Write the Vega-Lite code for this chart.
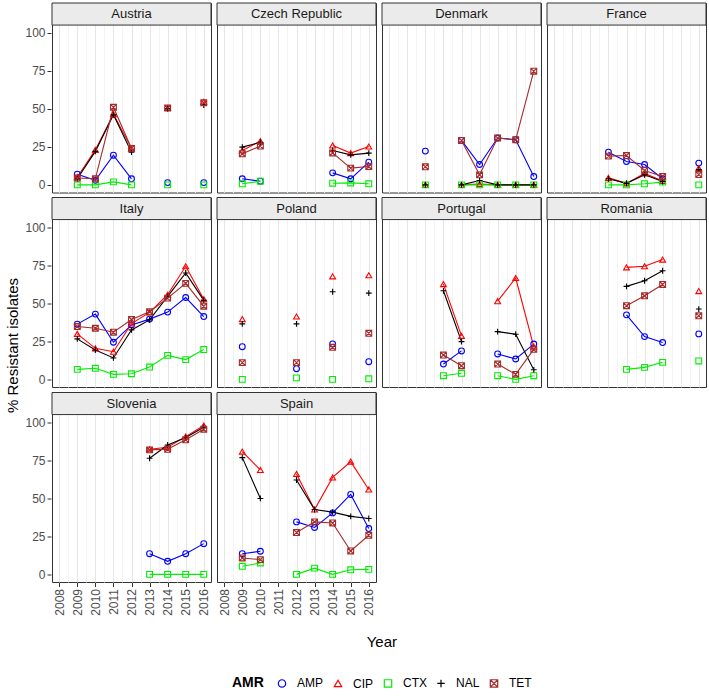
{
  "$schema": "https://vega.github.io/schema/vega-lite/v6.json",
  "padding": {"left": 5, "right": 1, "top": 1, "bottom": 2},
  "background": "white",
  "title": {"text": "% Resistant isolates", "orient": "left", "anchor": "middle", "fontSize": 15, "fontWeight": "normal", "color": "#000000", "offset": 4},
  "datasets": {
    "amr": [
    {"c":"Austria","yr":2009,"AMP":7,"CIP":5,"CTX":0,"NAL":4,"TET":4.5},
    {"c":"Austria","yr":2010,"AMP":3,"CIP":23,"CTX":0,"NAL":22,"TET":4},
    {"c":"Austria","yr":2011,"AMP":19.5,"CIP":46.5,"CTX":2,"NAL":46,"TET":51},
    {"c":"Austria","yr":2012,"AMP":4,"CIP":24,"CTX":0,"NAL":21.5,"TET":24},
    {"c":"Austria","yr":2013,"AMP":null,"CIP":null,"CTX":null,"NAL":null,"TET":null},
    {"c":"Austria","yr":2014,"AMP":1.5,"CIP":50.5,"CTX":0,"NAL":50,"TET":50.5},
    {"c":"Austria","yr":2015,"AMP":null,"CIP":null,"CTX":null,"NAL":null,"TET":null},
    {"c":"Austria","yr":2016,"AMP":1.5,"CIP":54.5,"CTX":0,"NAL":52.5,"TET":54},
    {"c":"Czech Republic","yr":2009,"AMP":4,"CIP":22.6,"CTX":0.7,"NAL":24.8,"TET":20.4},
    {"c":"Czech Republic","yr":2010,"AMP":2.4,"CIP":28.7,"CTX":2.4,"NAL":28,"TET":25.5},
    {"c":"Czech Republic","yr":2011,"AMP":null,"CIP":null,"CTX":null,"NAL":null,"TET":null},
    {"c":"Czech Republic","yr":2014,"AMP":7.9,"CIP":25.9,"CTX":1.1,"NAL":22.6,"TET":21},
    {"c":"Czech Republic","yr":2015,"AMP":4,"CIP":20.9,"CTX":1.3,"NAL":19.7,"TET":11},
    {"c":"Czech Republic","yr":2016,"AMP":14.9,"CIP":25.2,"CTX":0.7,"NAL":20.9,"TET":12.1},
    {"c":"Denmark","yr":2010,"AMP":22.2,"CIP":0,"CTX":0,"NAL":0,"TET":11.9},
    {"c":"Denmark","yr":2011,"AMP":null,"CIP":null,"CTX":null,"NAL":null,"TET":null},
    {"c":"Denmark","yr":2012,"AMP":29.2,"CIP":0,"CTX":0,"NAL":0,"TET":29.2},
    {"c":"Denmark","yr":2013,"AMP":13.4,"CIP":0.5,"CTX":0,"NAL":2.9,"TET":6.6},
    {"c":"Denmark","yr":2014,"AMP":30.8,"CIP":0,"CTX":0,"NAL":0,"TET":30.8},
    {"c":"Denmark","yr":2015,"AMP":29.7,"CIP":0,"CTX":0,"NAL":0,"TET":29.7},
    {"c":"Denmark","yr":2016,"AMP":5.5,"CIP":0,"CTX":0,"NAL":0,"TET":74.7},
    {"c":"France","yr":2011,"AMP":21.5,"CIP":4.6,"CTX":0,"NAL":4,"TET":18.9},
    {"c":"France","yr":2012,"AMP":15.4,"CIP":1,"CTX":0,"NAL":1,"TET":19.3},
    {"c":"France","yr":2013,"AMP":13.4,"CIP":7.5,"CTX":0.7,"NAL":6.6,"TET":9.5},
    {"c":"France","yr":2014,"AMP":4,"CIP":2.6,"CTX":1.8,"NAL":2.2,"TET":5.5},
    {"c":"France","yr":2015,"AMP":null,"CIP":null,"CTX":null,"NAL":null,"TET":null},
    {"c":"France","yr":2016,"AMP":14.3,"CIP":11,"CTX":0,"NAL":10,"TET":6.8},
    {"c":"Italy","yr":2009,"AMP":36.3,"CIP":29.9,"CTX":6.6,"NAL":26.6,"TET":34.7},
    {"c":"Italy","yr":2010,"AMP":42.9,"CIP":20.4,"CTX":7.3,"NAL":19.3,"TET":33.6},
    {"c":"Italy","yr":2011,"AMP":24.4,"CIP":18.2,"CTX":3.3,"NAL":14.1,"TET":31},
    {"c":"Italy","yr":2012,"AMP":35.8,"CIP":36.7,"CTX":3.7,"NAL":32.5,"TET":39.3},
    {"c":"Italy","yr":2013,"AMP":39.6,"CIP":44,"CTX":8.1,"NAL":39.1,"TET":44.4},
    {"c":"Italy","yr":2014,"AMP":44.2,"CIP":55.6,"CTX":15.8,"NAL":54.5,"TET":53.4},
    {"c":"Italy","yr":2015,"AMP":53.8,"CIP":74.3,"CTX":13,"NAL":69.9,"TET":63.1},
    {"c":"Italy","yr":2016,"AMP":41.3,"CIP":52.7,"CTX":19.6,"NAL":51.9,"TET":48.1},
    {"c":"Poland","yr":2009,"AMP":21.5,"CIP":39.6,"CTX":0,"NAL":36.5,"TET":11},
    {"c":"Poland","yr":2010,"AMP":null,"CIP":null,"CTX":null,"NAL":null,"TET":null},
    {"c":"Poland","yr":2012,"AMP":7,"CIP":41.3,"CTX":1,"NAL":36.5,"TET":11},
    {"c":"Poland","yr":2013,"AMP":null,"CIP":null,"CTX":null,"NAL":null,"TET":null},
    {"c":"Poland","yr":2014,"AMP":23.3,"CIP":67.7,"CTX":0,"NAL":57.6,"TET":21.1},
    {"c":"Poland","yr":2015,"AMP":null,"CIP":null,"CTX":null,"NAL":null,"TET":null},
    {"c":"Poland","yr":2016,"AMP":11.6,"CIP":68.4,"CTX":0.4,"NAL":56.7,"TET":30.3},
    {"c":"Portugal","yr":2011,"AMP":10.1,"CIP":62.6,"CTX":2.4,"NAL":58.2,"TET":16},
    {"c":"Portugal","yr":2012,"AMP":18.7,"CIP":28.6,"CTX":4,"NAL":24.8,"TET":9},
    {"c":"Portugal","yr":2013,"AMP":null,"CIP":null,"CTX":null,"NAL":null,"TET":null},
    {"c":"Portugal","yr":2014,"AMP":16.7,"CIP":51.4,"CTX":2.4,"NAL":31.4,"TET":10.1},
    {"c":"Portugal","yr":2015,"AMP":13.4,"CIP":66.6,"CTX":0,"NAL":29.7,"TET":3.3},
    {"c":"Portugal","yr":2016,"AMP":23.2,"CIP":21.5,"CTX":2.4,"NAL":6.3,"TET":19.7},
    {"c":"Romania","yr":2012,"AMP":42.4,"CIP":73.6,"CTX":6.6,"NAL":61.1,"TET":48.4},
    {"c":"Romania","yr":2013,"AMP":28.1,"CIP":74.3,"CTX":7.9,"NAL":64.8,"TET":54.9},
    {"c":"Romania","yr":2014,"AMP":24.2,"CIP":78.7,"CTX":11.2,"NAL":71.4,"TET":62.4},
    {"c":"Romania","yr":2015,"AMP":null,"CIP":null,"CTX":null,"NAL":null,"TET":null},
    {"c":"Romania","yr":2016,"AMP":29.9,"CIP":58,"CTX":12.1,"NAL":46.2,"TET":41.8},
    {"c":"Slovenia","yr":2013,"AMP":13.6,"CIP":82.2,"CTX":0,"NAL":76.3,"TET":81.8},
    {"c":"Slovenia","yr":2014,"AMP":8.6,"CIP":83.5,"CTX":0,"NAL":85,"TET":82.2},
    {"c":"Slovenia","yr":2015,"AMP":13.6,"CIP":90.5,"CTX":0,"NAL":89.9,"TET":88.4},
    {"c":"Slovenia","yr":2016,"AMP":20.2,"CIP":97.8,"CTX":0,"NAL":96.7,"TET":95.4},
    {"c":"Spain","yr":2009,"AMP":13.6,"CIP":80.7,"CTX":5.3,"NAL":76.7,"TET":10.8},
    {"c":"Spain","yr":2010,"AMP":15.2,"CIP":68.6,"CTX":7.5,"NAL":49.9,"TET":9.7},
    {"c":"Spain","yr":2011,"AMP":null,"CIP":null,"CTX":null,"NAL":null,"TET":null},
    {"c":"Spain","yr":2012,"AMP":34.5,"CIP":66,"CTX":0,"NAL":62,"TET":27.5},
    {"c":"Spain","yr":2013,"AMP":30.8,"CIP":42.6,"CTX":4.1,"NAL":42.6,"TET":34.5},
    {"c":"Spain","yr":2014,"AMP":40.4,"CIP":63.7,"CTX":0,"NAL":40.9,"TET":33.8},
    {"c":"Spain","yr":2015,"AMP":52.5,"CIP":74.1,"CTX":3,"NAL":38.1,"TET":15.4},
    {"c":"Spain","yr":2016,"AMP":30.1,"CIP":55.8,"CTX":3.3,"NAL":36.7,"TET":25.7}
    ]
  },
  "data": {"name": "amr"},
  "transform": [
    {"fold": ["AMP","CIP","CTX","NAL","TET"], "as": ["amr","pct"]}
  ],
  "spacing": 2.5,
  "vconcat": [
    {
      "transform": [{"filter": {"not": {"field": "c", "oneOf": ["Slovenia", "Spain"]}}}],
      "facet": {"field": "c", "type": "nominal", "header": {"labels": false, "title": null, "labelExpr": "''", "labelPadding": 0, "labelFontSize": 1}},
      "columns": 4,
      "spacing": {"row": 2.5, "column": 4},
      "spec": {
        "width": 159,
        "height": 189.5,
        "layer": [
          {
            "transform": [{"aggregate": [{"op": "count", "as": "n"}], "groupby": ["c"]}],
            "mark": {"type": "rect", "fill": "#ebebeb", "stroke": "#333333", "strokeWidth": 1},
            "encoding": {
              "y": {"datum": 105, "type": "quantitative", "scale": {"domain": [-5, 119.5], "nice": false, "zero": false},
                "axis": {"title": null, "values": [0,12.5,25,37.5,50,62.5,75,87.5,100],
                  "labelExpr": "datum.value % 25 === 0 ? '' + datum.value : ''",
                  "tickColor": {"condition": {"test": "datum.value % 25 !== 0", "value": "transparent"}, "value": "#333333"},
                  "gridColor": {"condition": {"test": "datum.value % 25 !== 0", "value": "#f4f4f4"}, "value": "#e6e6e6"}}},
              "y2": {"datum": 119.5}
            }
          },
          {
            "transform": [{"aggregate": [{"op": "count", "as": "n"}], "groupby": ["c"]}],
            "mark": {"type": "text", "fontSize": 13, "color": "#1a1a1a", "baseline": "middle", "align": "center"},
            "encoding": {
              "y": {"datum": 112.2, "type": "quantitative", "scale": {"domain": [-5, 119.5], "nice": false, "zero": false},
                "axis": {"title": null, "values": [0,12.5,25,37.5,50,62.5,75,87.5,100],
                  "labelExpr": "datum.value % 25 === 0 ? '' + datum.value : ''",
                  "tickColor": {"condition": {"test": "datum.value % 25 !== 0", "value": "transparent"}, "value": "#333333"},
                  "gridColor": {"condition": {"test": "datum.value % 25 !== 0", "value": "#f4f4f4"}, "value": "#e6e6e6"}}},
              "text": {"field": "c", "type": "nominal"}
            }
          },
          {
            "mark": {"type": "line", "strokeWidth": 1.1},
            "encoding": {
              "x": {"field": "yr", "type": "quantitative",
                "scale": {"domain": [2007.6, 2016.4], "nice": false, "zero": false},
                "axis": {"title": null, "labels": false, "ticks": false, "minExtent": 0, "maxExtent": 0,
                  "values": [2008,2008.5,2009,2009.5,2010,2010.5,2011,2011.5,2012,2012.5,2013,2013.5,2014,2014.5,2015,2015.5,2016],
                  "gridColor": {"condition": {"test": "datum.value % 1 !== 0", "value": "#f4f4f4"}, "value": "#e6e6e6"}}},
              "y": {"field": "pct", "type": "quantitative", "scale": {"domain": [-5, 119.5], "nice": false, "zero": false},
                "axis": {"title": null, "values": [0,12.5,25,37.5,50,62.5,75,87.5,100],
                  "labelExpr": "datum.value % 25 === 0 ? '' + datum.value : ''",
                  "tickColor": {"condition": {"test": "datum.value % 25 !== 0", "value": "transparent"}, "value": "#333333"},
                  "gridColor": {"condition": {"test": "datum.value % 25 !== 0", "value": "#f4f4f4"}, "value": "#e6e6e6"}}},
              "color": {"field": "amr", "type": "nominal", "title": "AMR",
                "scale": {"domain": ["AMP","CIP","CTX","NAL","TET"], "range": ["#0000ff","#ff0000","#00ee00","#000000","#a52a2a"]}}
            }
          },
          {
            "mark": {"type": "point", "filled": false, "size": 34, "strokeWidth": 1.1, "opacity": 1},
            "encoding": {
              "x": {"field": "yr", "type": "quantitative",
                "scale": {"domain": [2007.6, 2016.4], "nice": false, "zero": false},
                "axis": {"title": null, "labels": false, "ticks": false, "minExtent": 0, "maxExtent": 0,
                  "values": [2008,2008.5,2009,2009.5,2010,2010.5,2011,2011.5,2012,2012.5,2013,2013.5,2014,2014.5,2015,2015.5,2016],
                  "gridColor": {"condition": {"test": "datum.value % 1 !== 0", "value": "#f4f4f4"}, "value": "#e6e6e6"}}},
              "y": {"field": "pct", "type": "quantitative", "scale": {"domain": [-5, 119.5], "nice": false, "zero": false},
                "axis": {"title": null, "values": [0,12.5,25,37.5,50,62.5,75,87.5,100],
                  "labelExpr": "datum.value % 25 === 0 ? '' + datum.value : ''",
                  "tickColor": {"condition": {"test": "datum.value % 25 !== 0", "value": "transparent"}, "value": "#333333"},
                  "gridColor": {"condition": {"test": "datum.value % 25 !== 0", "value": "#f4f4f4"}, "value": "#e6e6e6"}}},
              "color": {"field": "amr", "type": "nominal", "title": "AMR",
                "scale": {"domain": ["AMP","CIP","CTX","NAL","TET"], "range": ["#0000ff","#ff0000","#00ee00","#000000","#a52a2a"]}},
              "shape": {"field": "amr", "type": "nominal", "title": "AMR",
                "scale": {"domain": ["AMP","CIP","CTX","NAL","TET"], "range": ["circle","triangle-up","square","M-1,0H1M0,-1V1","M-1,-1H1V1H-1ZM-1,-1L1,1M-1,1L1,-1"]}}
            }
          }
        ]
      }
    },
    {
      "title": {"text": "Year", "orient": "bottom", "anchor": "end", "dx": 20, "fontSize": 15, "fontWeight": "normal", "color": "#000000", "offset": 20},
      "transform": [{"filter": {"field": "c", "oneOf": ["Slovenia", "Spain"]}}],
      "facet": {"field": "c", "type": "nominal", "header": {"labels": false, "title": null, "labelExpr": "''", "labelPadding": 0, "labelFontSize": 1}},
      "columns": 4,
      "spacing": {"row": 2.5, "column": 4},
      "spec": {
        "width": 159,
        "height": 189.5,
        "layer": [
          {
            "transform": [{"aggregate": [{"op": "count", "as": "n"}], "groupby": ["c"]}],
            "mark": {"type": "rect", "fill": "#ebebeb", "stroke": "#333333", "strokeWidth": 1},
            "encoding": {
              "y": {"datum": 105, "type": "quantitative", "scale": {"domain": [-5, 119.5], "nice": false, "zero": false},
                "axis": {"title": null, "values": [0,12.5,25,37.5,50,62.5,75,87.5,100],
                  "labelExpr": "datum.value % 25 === 0 ? '' + datum.value : ''",
                  "tickColor": {"condition": {"test": "datum.value % 25 !== 0", "value": "transparent"}, "value": "#333333"},
                  "gridColor": {"condition": {"test": "datum.value % 25 !== 0", "value": "#f4f4f4"}, "value": "#e6e6e6"}}},
              "y2": {"datum": 119.5}
            }
          },
          {
            "transform": [{"aggregate": [{"op": "count", "as": "n"}], "groupby": ["c"]}],
            "mark": {"type": "text", "fontSize": 13, "color": "#1a1a1a", "baseline": "middle", "align": "center"},
            "encoding": {
              "y": {"datum": 112.2, "type": "quantitative", "scale": {"domain": [-5, 119.5], "nice": false, "zero": false},
                "axis": {"title": null, "values": [0,12.5,25,37.5,50,62.5,75,87.5,100],
                  "labelExpr": "datum.value % 25 === 0 ? '' + datum.value : ''",
                  "tickColor": {"condition": {"test": "datum.value % 25 !== 0", "value": "transparent"}, "value": "#333333"},
                  "gridColor": {"condition": {"test": "datum.value % 25 !== 0", "value": "#f4f4f4"}, "value": "#e6e6e6"}}},
              "text": {"field": "c", "type": "nominal"}
            }
          },
          {
            "mark": {"type": "line", "strokeWidth": 1.1},
            "encoding": {
              "x": {"field": "yr", "type": "quantitative",
                "scale": {"domain": [2007.6, 2016.4], "nice": false, "zero": false},
                "axis": {"title": null,
                  "values": [2008,2008.5,2009,2009.5,2010,2010.5,2011,2011.5,2012,2012.5,2013,2013.5,2014,2014.5,2015,2015.5,2016],
                  "labelExpr": "datum.value % 1 === 0 ? '' + datum.value : ''",
                  "tickColor": {"condition": {"test": "datum.value % 1 !== 0", "value": "transparent"}, "value": "#333333"},
                  "gridColor": {"condition": {"test": "datum.value % 1 !== 0", "value": "#f4f4f4"}, "value": "#e6e6e6"}}},
              "y": {"field": "pct", "type": "quantitative", "scale": {"domain": [-5, 119.5], "nice": false, "zero": false},
                "axis": {"title": null, "values": [0,12.5,25,37.5,50,62.5,75,87.5,100],
                  "labelExpr": "datum.value % 25 === 0 ? '' + datum.value : ''",
                  "tickColor": {"condition": {"test": "datum.value % 25 !== 0", "value": "transparent"}, "value": "#333333"},
                  "gridColor": {"condition": {"test": "datum.value % 25 !== 0", "value": "#f4f4f4"}, "value": "#e6e6e6"}}},
              "color": {"field": "amr", "type": "nominal", "title": "AMR",
                "scale": {"domain": ["AMP","CIP","CTX","NAL","TET"], "range": ["#0000ff","#ff0000","#00ee00","#000000","#a52a2a"]}}
            }
          },
          {
            "mark": {"type": "point", "filled": false, "size": 34, "strokeWidth": 1.1, "opacity": 1},
            "encoding": {
              "x": {"field": "yr", "type": "quantitative",
                "scale": {"domain": [2007.6, 2016.4], "nice": false, "zero": false},
                "axis": {"title": null,
                  "values": [2008,2008.5,2009,2009.5,2010,2010.5,2011,2011.5,2012,2012.5,2013,2013.5,2014,2014.5,2015,2015.5,2016],
                  "labelExpr": "datum.value % 1 === 0 ? '' + datum.value : ''",
                  "tickColor": {"condition": {"test": "datum.value % 1 !== 0", "value": "transparent"}, "value": "#333333"},
                  "gridColor": {"condition": {"test": "datum.value % 1 !== 0", "value": "#f4f4f4"}, "value": "#e6e6e6"}}},
              "y": {"field": "pct", "type": "quantitative", "scale": {"domain": [-5, 119.5], "nice": false, "zero": false},
                "axis": {"title": null, "values": [0,12.5,25,37.5,50,62.5,75,87.5,100],
                  "labelExpr": "datum.value % 25 === 0 ? '' + datum.value : ''",
                  "tickColor": {"condition": {"test": "datum.value % 25 !== 0", "value": "transparent"}, "value": "#333333"},
                  "gridColor": {"condition": {"test": "datum.value % 25 !== 0", "value": "#f4f4f4"}, "value": "#e6e6e6"}}},
              "color": {"field": "amr", "type": "nominal", "title": "AMR",
                "scale": {"domain": ["AMP","CIP","CTX","NAL","TET"], "range": ["#0000ff","#ff0000","#00ee00","#000000","#a52a2a"]}},
              "shape": {"field": "amr", "type": "nominal", "title": "AMR",
                "scale": {"domain": ["AMP","CIP","CTX","NAL","TET"], "range": ["circle","triangle-up","square","M-1,0H1M0,-1V1","M-1,-1H1V1H-1ZM-1,-1L1,1M-1,1L1,-1"]}}
            }
          }
        ]
      }
    }
  ],
  "config": {
    "font": "Liberation Sans",
    "view": {"stroke": "#333333", "strokeWidth": 1},
    "header": {"labels": false, "title": null},
    "headerFacet": {"labels": false, "title": null},
    "axis": {
      "domain": false, "tickSize": 4, "tickWidth": 1, "labelPadding": 2,
      "labelFontSize": 12, "labelColor": "#4d4d4d",
      "titleFontSize": 15, "titleFontWeight": "normal", "titleColor": "#000000",
      "gridWidth": 1
    },
    "axisX": {"labelAngle": 270},
    "legend": {
      "orient": "none", "legendX": 180, "legendY": 674, "direction": "horizontal",
      "titleOrient": "left", "titleFontSize": 14, "titleFontWeight": "bold", "titleColor": "#000", "titlePadding": 12,
      "labelFontSize": 12, "labelColor": "#000", "labelOffset": 9, "symbolSize": 55, "symbolStrokeWidth": 1.2,
      "columnPadding": 7
    }
  }
}
